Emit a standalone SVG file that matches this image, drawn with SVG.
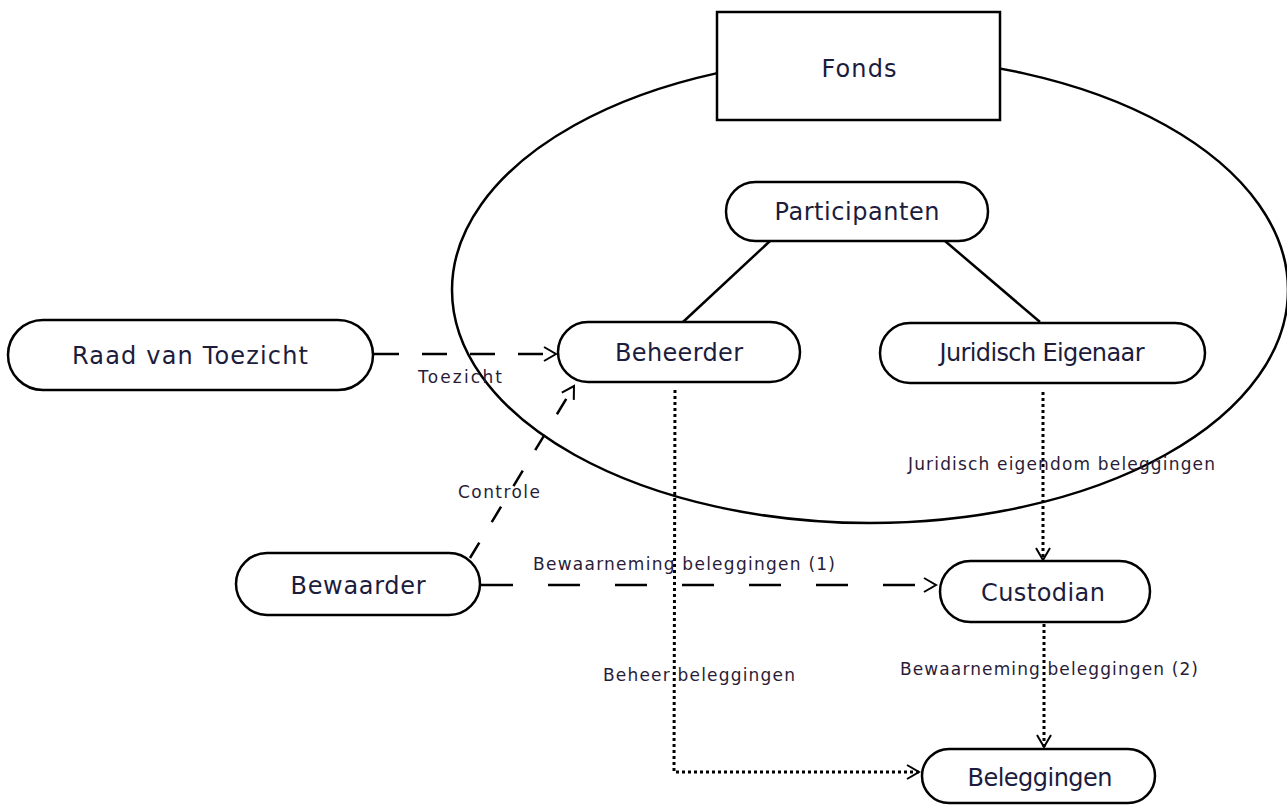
<svg xmlns="http://www.w3.org/2000/svg" width="1287" height="805" viewBox="0 0 1287 805">
<defs>
<style>
.node{fill:#fff;stroke:#000;stroke-width:2.5}
.nt{font-family:"DejaVu Sans",Verdana,sans-serif;font-size:24px;fill:#1c1c3c;text-anchor:middle}
.lb{font-family:"DejaVu Sans",Verdana,sans-serif;font-size:17px;fill:#2a1c38}
.dash{fill:none;stroke:#000;stroke-width:2.5}
.dot{fill:none;stroke:#000;stroke-width:3;stroke-dasharray:3 3}
</style>
<marker id="arr" markerWidth="18" markerHeight="18" refX="14" refY="9" orient="auto" markerUnits="userSpaceOnUse">
<path d="M2,2 L14,9 L2,16" fill="none" stroke="#000" stroke-width="2"/>
</marker>
</defs>
<rect width="1287" height="805" fill="#fff"/>
<g id="fonds-ellipse">
<ellipse cx="870" cy="290" rx="418" ry="233" fill="none" stroke="#000" stroke-width="2.5"/>
</g>
<g id="fonds">
<rect x="717" y="12" width="283" height="108" class="node"/>
<text x="859" y="77" class="nt" textLength="75">Fonds</text>
</g>
<g id="connectors">
<line x1="770" y1="241" x2="683" y2="322" stroke="#000" stroke-width="2.5"/>
<line x1="945" y1="241" x2="1040" y2="322" stroke="#000" stroke-width="2.5"/>
<line x1="374" y1="354" x2="556" y2="354" class="dash" stroke-dasharray="25 23" marker-end="url(#arr)"/>
<line x1="470" y1="558" x2="574" y2="386" class="dash" stroke-dasharray="18 24" marker-end="url(#arr)"/>
<line x1="481" y1="585" x2="936" y2="585" class="dash" stroke-dasharray="32 35" marker-end="url(#arr)"/>
<line x1="1043" y1="392" x2="1043" y2="560" class="dot" marker-end="url(#arr)"/>
<line x1="1044" y1="624" x2="1044" y2="747" class="dot" marker-end="url(#arr)"/>
<polyline points="675,390 674,772 919,772" class="dot" marker-end="url(#arr)"/>
<text x="418" y="383" class="lb" textLength="84">Toezicht</text>
<text x="458" y="498" class="lb" textLength="82">Controle</text>
<text x="533" y="570" class="lb" textLength="302">Bewaarneming beleggingen (1)</text>
<text x="908" y="470" class="lb" textLength="307">Juridisch eigendom beleggingen</text>
<text x="900" y="675" class="lb" textLength="298">Bewaarneming beleggingen (2)</text>
<text x="603" y="681" class="lb" textLength="192">Beheer beleggingen</text>
</g>
<g id="participanten">
<rect x="726" y="182" width="262" height="59" rx="29.5" class="node"/>
<text x="857" y="220" class="nt" textLength="165">Participanten</text>
</g>
<g id="beheerder">
<rect x="558" y="322" width="242" height="60" rx="30" class="node"/>
<text x="679" y="361" class="nt" textLength="128">Beheerder</text>
</g>
<g id="juridisch-eigenaar">
<rect x="880" y="323" width="325" height="60" rx="30" class="node"/>
<text x="1042" y="361" class="nt" textLength="205">Juridisch Eigenaar</text>
</g>
<g id="raad-van-toezicht">
<rect x="8" y="320" width="365" height="70" rx="35" class="node"/>
<text x="190" y="364" class="nt" textLength="236">Raad van Toezicht</text>
</g>
<g id="bewaarder">
<rect x="236" y="553" width="244" height="62" rx="31" class="node"/>
<text x="358" y="594" class="nt" textLength="135">Bewaarder</text>
</g>
<g id="custodian">
<rect x="940" y="561" width="210" height="61" rx="30.5" class="node"/>
<text x="1043" y="601" class="nt" textLength="124">Custodian</text>
</g>
<g id="beleggingen">
<rect x="922" y="749" width="233" height="54" rx="27" class="node"/>
<text x="1040" y="786" class="nt" textLength="145">Beleggingen</text>
</g>
</svg>
